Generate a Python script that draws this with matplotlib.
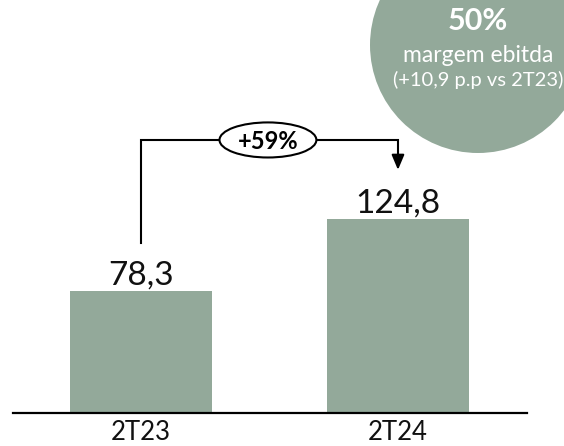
import matplotlib.pyplot as plt
from matplotlib.patches import Ellipse

periods = ['2T23', '2T24']
ebitda = [78.3, 124.8]
growth_label = '+59%'
margin_value = '50%'
margin_lines = ['margem ebitda', '(+10,9 p.p vs 2T23)']

green = '#93a99a'
font = 'Lato'

fig = plt.figure(figsize=(5.64, 4.46), dpi=100)
ax = fig.add_axes([13 / 564, 33 / 446, 514 / 564, 413 / 446])

x = list(range(len(periods)))
ax.bar(x, ebitda, width=0.553, color=green)
ax.set_xlim(-0.498, 1.502)
ax.set_ylim(0, 265)

for xi, v in zip(x, ebitda):
    ax.annotate(f'{v:.1f}'.replace('.', ','), (xi, v), xytext=(0, 4.5),
                textcoords='offset points', ha='center', va='baseline',
                fontsize=24, family=font, color='#111111')

ax.set_xticks(x, periods, fontsize=18.5, family=font, color='#111111')
ax.tick_params(axis='x', length=0, pad=5)
ax.set_yticks([])
for side in ['left', 'top', 'right']:
    ax.spines[side].set_visible(False)
ax.spines['bottom'].set_linewidth(1.6)
ax.spines['bottom'].set_color('black')

# growth bracket from first bar to second
y_top = 175.2
ax.plot([0, 0, 1, 1], [109, y_top, y_top, 164], color='black', lw=1.5,
        solid_joinstyle='miter', clip_on=False)
ax.annotate('', xy=(1, 156), xytext=(1, 166),
            arrowprops=dict(arrowstyle='-|>,head_length=0.9,head_width=0.38',
                            color='black', lw=1.5, shrinkA=0, shrinkB=0))
ax.add_patch(Ellipse((0.494, y_top), 0.377, 22.5, facecolor='white',
                     edgecolor='black', lw=1.5, zorder=3))
ax.text(0.494, y_top, growth_label, ha='center', va='center_baseline',
        fontsize=17, fontweight='bold', family=font, zorder=4)

# margin bubble in the top right corner
fig.add_artist(Ellipse((478 / 564, (446 - 45) / 446), 216 / 564, 216 / 446,
                       transform=fig.transFigure, facecolor=green,
                       edgecolor='none'))
fig.text(478 / 564, 1 - 19 / 446, margin_value, ha='center',
         va='center_baseline', fontsize=22, fontweight='bold', family=font,
         color='white')
fig.text(478 / 564, 1 - 54 / 446, margin_lines[0], ha='center',
         va='center_baseline', fontsize=16.5, family=font, color='white')
fig.text(478 / 564, 1 - 78 / 446, margin_lines[1], ha='center',
         va='center_baseline', fontsize=14.5, family=font, color='white')

fig.savefig('out.png', dpi=100)
